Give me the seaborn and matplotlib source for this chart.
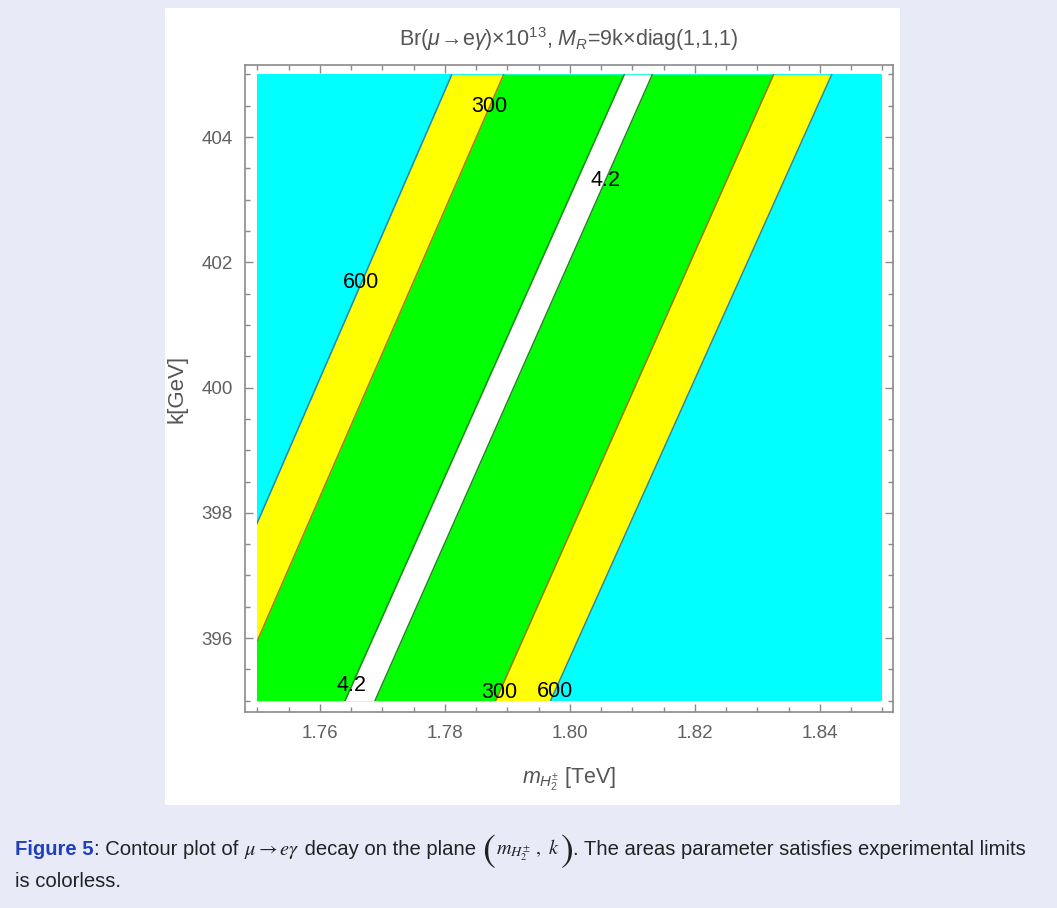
import matplotlib
matplotlib.use("Agg")
import matplotlib.pyplot as plt
from matplotlib.patches import Rectangle
import numpy as np
import seaborn as sns

# contour levels of Br(mu -> e gamma) x 1e13
level_names = ["600", "300", "4.2"]
k_ends = [395, 405]
# where each boundary line meets k=395 and k=405 (m in TeV)
left_at_395 = [1.7376, 1.7458, 1.7640]
left_at_405 = [1.7811, 1.7894, 1.8087]
right_at_395 = [1.7969, 1.7881, 1.7688]
right_at_405 = [1.8419, 1.8326, 1.8132]

# contour labels: level, which side of the valley, k position
label_level = ["300", "4.2", "600", "4.2", "300", "600"]
label_side = ["L", "R", "L", "L", "R", "R"]
label_k = [404.48, 403.30, 401.67, 395.25, 395.13, 395.15]

x_ticks = [1.76, 1.78, 1.80, 1.82, 1.84]
y_ticks = [396, 398, 400, 402, 404]

outer_color = "#00ffff"
fill_colors = ["#ffff00", "#00ff00", "#ffffff"]
line_colors = ["#2a86a8", "#a07a10", "#1e8a1e"]

sns.set_style("ticks")
plt.rcParams["font.family"] = ["Liberation Sans", "DejaVu Sans"]
plt.rcParams["mathtext.fontset"] = "custom"
plt.rcParams["mathtext.rm"] = "Liberation Sans"
plt.rcParams["mathtext.it"] = "Liberation Sans:italic"
plt.rcParams["mathtext.bf"] = "Liberation Sans:bold"

W, H = 1057, 908
fig = plt.figure(figsize=(W / 100, H / 100), dpi=100, facecolor="#e8ebf7")
fig.add_artist(Rectangle((165 / W, 1 - 805 / H), (900 - 165) / W, (805 - 8) / H,
                         transform=fig.transFigure, facecolor="white",
                         edgecolor="none", zorder=0))

ax = fig.add_axes([245 / W, 1 - 712 / H, 648 / W, 647 / H])
ax.set_facecolor("white")

bg = Rectangle((1.75, 395), 0.1, 10, facecolor=outer_color, edgecolor="none")
ax.add_patch(bg)

for i in range(3):
    poly = ax.fill_betweenx(k_ends, [left_at_395[i], left_at_405[i]],
                            [right_at_395[i], right_at_405[i]],
                            color=fill_colors[i], linewidth=0)
    poly.set_clip_path(bg)

for i in range(3):
    for xs in ([left_at_395[i], left_at_405[i]], [right_at_395[i], right_at_405[i]]):
        sns.lineplot(x=xs, y=k_ends, orient="y", estimator=None,
                     color=line_colors[i], linewidth=1.1, ax=ax)
        ax.lines[-1].set_clip_path(bg)

for lev, side, k in zip(label_level, label_side, label_k):
    i = level_names.index(lev)
    if side == "L":
        m = np.interp(k, k_ends, [left_at_395[i], left_at_405[i]])
    else:
        m = np.interp(k, k_ends, [right_at_395[i], right_at_405[i]])
    ax.text(m, k, lev, ha="center", va="center", fontsize=15.5, color="black")

ax.set_xlim(1.748, 1.8517)
ax.set_ylim(394.82, 405.15)
ax.set_xticks(x_ticks)
ax.set_xticklabels([f"{v:.2f}" for v in x_ticks])
ax.set_yticks(y_ticks)
ax.set_xticks(np.arange(1.75, 1.8501, 0.005), minor=True)
ax.set_yticks(np.arange(395, 405.01, 0.5), minor=True)
ax.tick_params(which="both", direction="in", top=True, right=True,
               color="#8a8a8a", labelcolor="#606060", labelsize=13.5, pad=9)
ax.tick_params(which="major", length=6, width=1)
ax.tick_params(which="minor", length=3.5, width=1)
for s in ax.spines.values():
    s.set_color("#8a8a8a")
    s.set_linewidth(1.2)

ax.set_title(r"Br($\mu\!\rightarrow\!$e$\gamma$)×$10^{13}$, $M_R$=9k×diag(1,1,1)",
             fontsize=15.5, color="#555555", pad=14)
ax.set_xlabel(r"$m_{H_2^{\pm}}$ [TeV]", fontsize=15.5, color="#555555")
ax.set_ylabel("k[GeV]", fontsize=16, color="#555555")
ax.xaxis.set_label_coords(0.5, -0.082)
ax.yaxis.set_label_coords(-0.088, 0.5)

# caption under the panel, written piece by piece so the bold part and big brackets fit
caption = [
    ("Figure 5", dict(weight="bold", color="#1f3fc0"), 1.0, 0),
    (": Contour plot of ", dict(color="#222222"), 1.0, 0),
    (r"$\mu\rightarrow e\gamma$", dict(color="#222222", math_fontfamily="stix"), 1.0, 0),
    (" decay on the plane ", dict(color="#222222"), 1.0, 0),
    (r"$($", dict(color="#222222", math_fontfamily="stix"), 1.9, 6),
    (r"$m_{H_2^{\pm}}\ ,\ k$", dict(color="#222222", math_fontfamily="stix"), 1.0, 0),
    (r"$)$", dict(color="#222222", math_fontfamily="stix"), 1.9, 6),
    (". The areas parameter satisfies experimental limits", dict(color="#222222"), 1.0, 0),
]

fig.canvas.draw()
r = fig.canvas.get_renderer()
fs = 14
for _ in range(4):
    placed = []
    x = 15.0
    for txt, kw, scale, drop in caption:
        t = fig.text(x / W, 1 - (855 + drop) / H, txt, fontsize=fs * scale,
                     va="baseline", **kw)
        placed.append(t)
        x = t.get_window_extent(r).x1
    width = x - 15
    if abs(width - 1012) < 3:
        break
    for t in placed:
        t.remove()
    fs = fs * 1012 / width
fig.text(15 / W, 1 - 887 / H, "is colorless.", fontsize=fs, color="#222222",
         va="baseline")

fig.savefig("out.png", dpi=100, facecolor=fig.get_facecolor())
